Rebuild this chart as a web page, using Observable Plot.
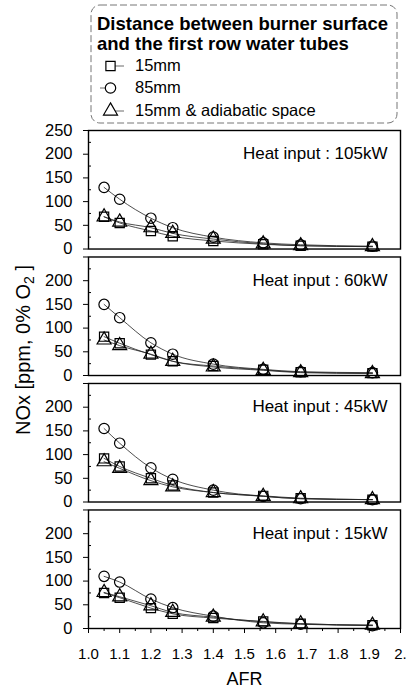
<!DOCTYPE html>
<html><head><meta charset="utf-8">
<script src="https://cdn.jsdelivr.net/npm/d3@7"></script>
<script src="https://cdn.jsdelivr.net/npm/@observablehq/plot@0.6"></script>
<style>body{margin:0;background:#fff} #chart{width:409px;height:691px;position:relative}</style>
</head><body><div id="chart"></div>
<script>
// ---- data ----
const afr = [1.05, 1.1, 1.2, 1.27, 1.4, 1.56, 1.68, 1.91];
const panels = ["105kW", "60kW", "45kW", "15kW"];
const heatLabels = ["Heat input : 105kW", "Heat input : 60kW", "Heat input : 45kW", "Heat input : 15kW"];
const seriesNames = ["15mm", "85mm", "15mm & adiabatic space"];

const sq105 = [68, 55, 38, 27, 17, 10, 7, 5];
const ci105 = [130, 105, 65, 45, 25, 13, 9, 6];
const tr105 = [68, 57, 45, 33, 21, 11, 7, 5];

const sq60 = [82, 68, 44, 30, 20, 12, 7, 5];
const ci60 = [150, 122, 69, 45, 24, 13, 8, 6];
const tr60 = [75, 63, 45, 30, 18, 11, 6, 4];

const sq45 = [92, 75, 50, 35, 20, 13, 8, 5];
const ci45 = [155, 124, 72, 48, 25, 12, 7, 5];
const tr45 = [85, 71, 45, 32, 20, 12, 7, 5];

const sq15 = [75, 65, 43, 31, 22, 15, 10, 7];
const ci15 = [110, 98, 62, 44, 26, 12, 9, 6];
const tr15 = [76, 67, 48, 34, 24, 14, 10, 7];

const yTicks = [0, 50, 100, 150, 200];
const yTopTick = [250];
const yMinor = [25, 75, 125, 175, 225];
const xTicks = [1.0, 1.1, 1.2, 1.3, 1.4, 1.5, 1.6, 1.7, 1.8, 1.9, 2.0];
const xTickLabels = ["1.0", "1.1", "1.2", "1.3", "1.4", "1.5", "1.6", "1.7", "1.8", "1.9", "2."];
const xMinor = [1.05, 1.15, 1.25, 1.35, 1.45, 1.55, 1.65, 1.75, 1.85, 1.95];

// ---- table ----
const byPanel = [[sq105, ci105, tr105], [sq60, ci60, tr60], [sq45, ci45, tr45], [sq15, ci15, tr15]];
const rows = [];
panels.forEach((p, pi) => seriesNames.forEach((s, si) =>
  byPanel[pi][si].forEach((v, i) => rows.push({panel: p, series: s, afr: afr[i], nox: v}))));
const labelRows = panels.map((p, i) => ({panel: p, text: heatLabels[i]}));

const font = "'Liberation Sans', Arial, Helvetica, sans-serif";

const svg = Plot.plot({
  width: 409, height: 691,
  marginTop: 130, marginBottom: 63, marginLeft: 88, marginRight: 9,
  x: {domain: [1.0, 2.0]},
  y: {domain: [0, 250]},
  fy: {domain: panels, paddingInner: 0.063, paddingOuter: 0, round: false, axis: null, label: null},
  symbol: {domain: seriesNames, range: ["square", "circle", "triangle"]},
  style: {fontFamily: font, fontSize: "15px", color: "black", background: "white"},
  marks: [
    Plot.frame({stroke: "black", strokeWidth: 1.4}),
    Plot.axisY({ticks: yTicks, tickSize: 5, tickPadding: 11, fontSize: 16.5, label: null, tickFormat: d => String(d)}),
    Plot.axisY({ticks: yTopTick, tickSize: 5, label: null, tickFormat: () => ""}),
    Plot.axisY({ticks: yTopTick, facetAnchor: "top", tickSize: 5, tickPadding: 11, fontSize: 16.5, label: null, tickFormat: d => String(d)}),
    Plot.axisY({ticks: yMinor, tickSize: -3, label: null, tickFormat: () => ""}),
    Plot.axisX({ticks: xTicks, tickSize: 5, tickPadding: 14.5, fontSize: 15,
      tickFormat: d => xTickLabels[Math.round((d - 1) * 10)],
      label: "AFR", labelAnchor: "center", labelArrow: false, labelOffset: 56}),
    Plot.axisX({ticks: xMinor, tickSize: 3, label: null, tickFormat: () => ""}),
    Plot.text(labelRows, {fy: "panel", text: "text", frameAnchor: "top-right", textAnchor: "end",
      lineAnchor: "top", dx: -13, dy: 16.5, fontSize: 17}),
    Plot.line(rows, {fy: "panel", x: "afr", y: "nox", z: "series", curve: "monotone-x",
      stroke: "#222", strokeWidth: 0.8}),
    Plot.dot(rows, {fy: "panel", x: "afr", y: "nox", symbol: "series", r: 5.2,
      fill: "none", stroke: "black", strokeWidth: 1.2})
  ]
});

const s = d3.select(svg);
// font sizes for x axis texts
s.selectAll("g[aria-label='x-axis tick label']").attr("font-size", 15);
s.selectAll("g[aria-label='x-axis tick label'] text").attr("font-size", 15);
s.selectAll("g[aria-label='x-axis label']").attr("font-size", 18);
s.selectAll("g[aria-label='x-axis label'] text").attr("font-size", 18);

document.getElementById("chart").appendChild(svg);

// ---- y-axis title ----
const yt = s.append("text")
  .attr("transform", "translate(30,350) rotate(-90)")
  .attr("text-anchor", "middle")
  .attr("font-family", font).attr("font-size", 20).attr("fill", "black");
yt.append("tspan").text("NOx [ppm, 0% O");
yt.append("tspan").attr("font-size", 14).attr("dy", 4).text("2");
yt.append("tspan").attr("dy", -4).text(" ]");

// ---- legend ----
const lg = s.append("g").attr("font-family", font).attr("fill", "black").attr("text-anchor", "start");
lg.append("rect").attr("x", 91).attr("y", 5).attr("width", 306).attr("height", 118).attr("rx", 9)
  .attr("fill", "none").attr("stroke", "#777").attr("stroke-width", 1).attr("stroke-dasharray", "7 3");
lg.append("text").attr("x", 97).attr("y", 30).attr("font-weight", "bold").attr("font-size", 18.5)
  .text("Distance between burner surface");
lg.append("text").attr("x", 97).attr("y", 49.5).attr("font-weight", "bold").attr("font-size", 18.5)
  .text("and the first row water tubes");
const symTypes = [d3.symbolSquare, d3.symbolCircle, d3.symbolTriangle];
const legY = [66, 88, 111];
const legBase = [71, 93, 115.5];
seriesNames.forEach((name, i) => {
  const seg = i === 1 ? [100, 110] : [110, 124];
  lg.append("line").attr("x1", seg[0]).attr("x2", seg[1]).attr("y1", legY[i]).attr("y2", legY[i])
    .attr("stroke", "#444").attr("stroke-width", 0.8);
  lg.append("path").attr("d", d3.symbol(symTypes[i], Math.PI * 5.2 * 5.2)())
    .attr("transform", `translate(110.5,${legY[i]})`)
    .attr("fill", "white").attr("stroke", "black").attr("stroke-width", 1.2);
  lg.append("text").attr("x", 135).attr("y", legBase[i]).attr("font-size", 16.5).text(name);
});
</script>
</body></html>
